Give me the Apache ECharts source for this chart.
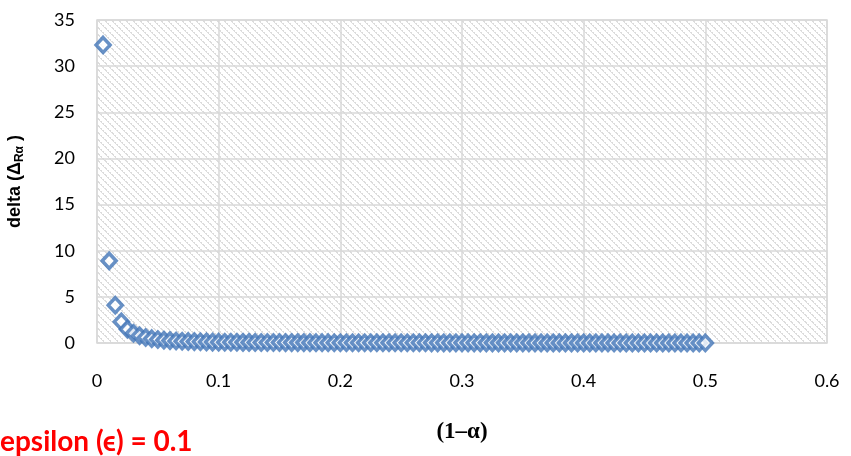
<!DOCTYPE html>
<html>
<head>
<meta charset="utf-8">
<script src="https://cdn.jsdelivr.net/npm/echarts@6/dist/echarts.min.js"></script>
<style>
html,body{margin:0;padding:0;background:#fff;}
#chart{width:851px;height:456px;}
</style>
</head>
<body>
<div id="chart"></div>
<script>
// 1 - alpha
var xValues = [
0.005,0.01,0.015,0.02,0.025,0.03,0.035,0.04,0.045,0.05,
0.055,0.06,0.065,0.07,0.075,0.08,0.085,0.09,0.095,0.1,
0.105,0.11,0.115,0.12,0.125,0.13,0.135,0.14,0.145,0.15,
0.155,0.16,0.165,0.17,0.175,0.18,0.185,0.19,0.195,0.2,
0.205,0.21,0.215,0.22,0.225,0.23,0.235,0.24,0.245,0.25,
0.255,0.26,0.265,0.27,0.275,0.28,0.285,0.29,0.295,0.3,
0.305,0.31,0.315,0.32,0.325,0.33,0.335,0.34,0.345,0.35,
0.355,0.36,0.365,0.37,0.375,0.38,0.385,0.39,0.395,0.4,
0.405,0.41,0.415,0.42,0.425,0.43,0.435,0.44,0.445,0.45,
0.455,0.46,0.465,0.47,0.475,0.48,0.485,0.49,0.495,0.5
];
// delta (Δ_Rα)
var deltaValues = [
32.3,8.9,4.1,2.3,1.5,1.05,0.78,0.6,0.47,0.38,
0.31,0.26,0.22,0.19,0.17,0.15,0.13,0.12,0.1,0.09,
0.085,0.08,0.075,0.07,0.066,0.062,0.058,0.055,0.052,0.05,
0.047,0.045,0.043,0.041,0.039,0.037,0.036,0.034,0.033,0.032,
0.031,0.03,0.029,0.028,0.027,0.026,0.025,0.025,0.024,0.023,
0.023,0.022,0.021,0.021,0.02,0.02,0.019,0.019,0.018,0.018,
0.017,0.017,0.017,0.016,0.016,0.015,0.015,0.015,0.014,0.014,
0.014,0.013,0.013,0.013,0.013,0.012,0.012,0.012,0.012,0.011,
0.011,0.011,0.011,0.011,0.01,0.01,0.01,0.01,0.01,0.01,
0.009,0.009,0.009,0.009,0.009,0.009,0.008,0.008,0.008,0.008
];
var xTickLabels = ['0','0.1','0.2','0.3','0.4','0.5','0.6'];
var yTickLabels = ['0','5','10','15','20','25','30','35'];

var points = xValues.map(function(x, i){ return [x, deltaValues[i]]; });

// hatch pattern for plot background
var P = 7;
var pc = document.createElement('canvas');
pc.width = P; pc.height = P;
var g = pc.getContext('2d');
g.fillStyle = '#ffffff';
g.fillRect(0,0,P,P);
g.fillStyle = '#dcdcdc';
for (var r = 0; r < P; r++) {
  g.fillRect(r, r, 1, 1);
  if (r % 2 === 0) g.fillRect((r + 1) % P, r, 1, 1);
}

var chart = echarts.init(document.getElementById('chart'), null, {renderer:'canvas'});
chart.setOption({
  animation: false,
  backgroundColor: '#ffffff',
  grid: {
    left: 97, right: 24, top: 20, bottom: 113,
    outerBoundsMode: 'none',
    containLabel: false,
    show: true,
    backgroundColor: {image: pc, repeat: 'repeat'},
    borderColor: '#d9d9d9',
    borderWidth: 1.5
  },
  xAxis: {
    type: 'value',
    min: 0, max: 0.6, interval: 0.1,
    name: '(1\u2013\u03b1)',
    nameLocation: 'middle',
    nameGap: 78,
    nameTextStyle: {fontFamily: 'Liberation Serif', fontWeight: 'bold', fontSize: 23, color: '#000'},
    axisLine: {show: false},
    axisTick: {show: false},
    splitLine: {show: true, lineStyle: {color: '#d9d9d9', width: 1.5}},
    axisLabel: {
      margin: 29,
      fontFamily: 'Lato', fontSize: 18, color: '#000',
      formatter: function(v){ return xTickLabels[Math.round(v*10)]; }
    }
  },
  yAxis: {
    type: 'value',
    min: 0, max: 35, interval: 5,
    name: 'delta (\u0394{sub|R\u03b1} )',
    nameLocation: 'middle',
    nameGap: 71,
    nameRotate: 90,
    nameTextStyle: {
      fontFamily: 'Liberation Sans', fontWeight: 'bold', fontSize: 18, color: '#000',
      rich: {
        sub: {fontFamily: 'Liberation Sans', fontWeight: 'bold', fontSize: 12, color: '#000', verticalAlign: 'bottom', padding: [10,0,0,0]}
      }
    },
    axisLine: {show: false},
    axisTick: {show: false},
    splitLine: {show: true, lineStyle: {color: '#d9d9d9', width: 1.5}},
    axisLabel: {
      margin: 22,
      fontFamily: 'Lato', fontSize: 18, color: '#000',
      formatter: function(v){ return yTickLabels[Math.round(v/5)]; }
    }
  },
  series: [{
    type: 'scatter',
    data: points,
    symbol: 'diamond',
    symbolSize: [14, 15],
    itemStyle: {color: '#ffffff', borderColor: '#4275b8', borderWidth: 3.5}
  }],
  graphic: [{
    type: 'text',
    left: 0, bottom: 0,
    style: {text: 'epsilon (\u03f5) = 0.1', fill: '#ff0000', font: 'bold 28px Lato'}
  }]
});
</script>
</body>
</html>
